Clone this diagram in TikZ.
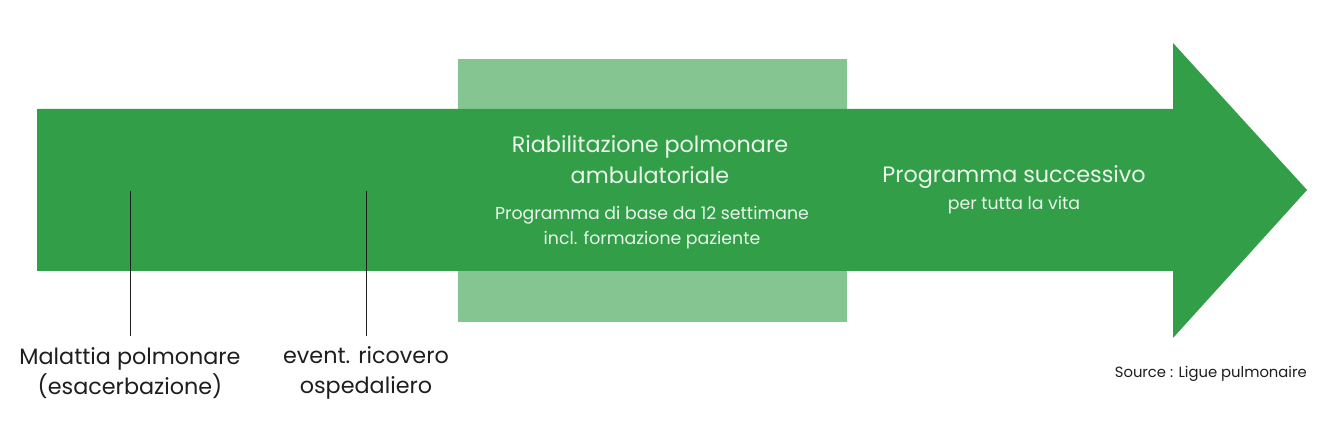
\documentclass[tikz,border=0pt]{standalone}
\usepackage{fontspec}
\setmainfont{Poppins}
\usepackage{tikz}
\usetikzlibrary{calc}
\usepackage{xcolor}
\definecolor{sgreen}{HTML}{339E48}
\definecolor{slight}{HTML}{85C591}
\definecolor{stext}{HTML}{EAF6EC}
\definecolor{sdark}{HTML}{1E1E1E}

\begin{document}
\begin{tikzpicture}[x=1pt, y=1pt,
    TXT/.style={align=center, text=stext, inner sep=0pt},
    LBL/.style={align=center, text=sdark, inner sep=0pt, font=\fontsize{22.3}{30}\selectfont},
    TICK/.style={draw=sdark, line width=0.9pt}
    ]
        \useasboundingbox (0,0) rectangle (1344,425);
        % light box behind the arrow
        \fill[slight] (458,103) rectangle (847,366);
        % arrow
        \fill[sgreen] (37,154) -- (1173,154) -- (1173,87) -- (1307,235) -- (1173,382) -- (1173,316) -- (37,316) -- cycle;
        \coordinate (T1) at (130,234);
        \coordinate (T2) at (366,234);
        \node[LBL] (L1) at (130,52) {Malattia polmonare\\(esacerbazione)};
        \node[LBL] (L2) at (366,52) {event. ricovero\\ospedaliero};
        \draw[TICK] (T1) -- (L1.north |- 0,89);
        \draw[TICK] (T2) -- (L2.north |- 0,89);
        \node[TXT, font=\fontsize{22.3}{31}\selectfont] (R1) at (650,265) {Riabilitazione polmonare\\ambulatoriale};
        \node[TXT, font=\fontsize{17.3}{25}\selectfont] (R2) at (652,197) {Programma di base da 12 settimane\\incl. formazione paziente};
        \node[TXT, font=\fontsize{22.3}{30}\selectfont] (P1) at (1014,248) {Programma successivo};
        \node[TXT, font=\fontsize{17.3}{25}\selectfont] (P2) at (1014,220) {per tutta la vita};
        \node[inner sep=0pt, anchor=east, text=sdark, font=\fontsize{14.8}{18}\selectfont] (S) at (1307,51) {Source : Ligue pulmonaire};
    \end{tikzpicture}
\end{document}
